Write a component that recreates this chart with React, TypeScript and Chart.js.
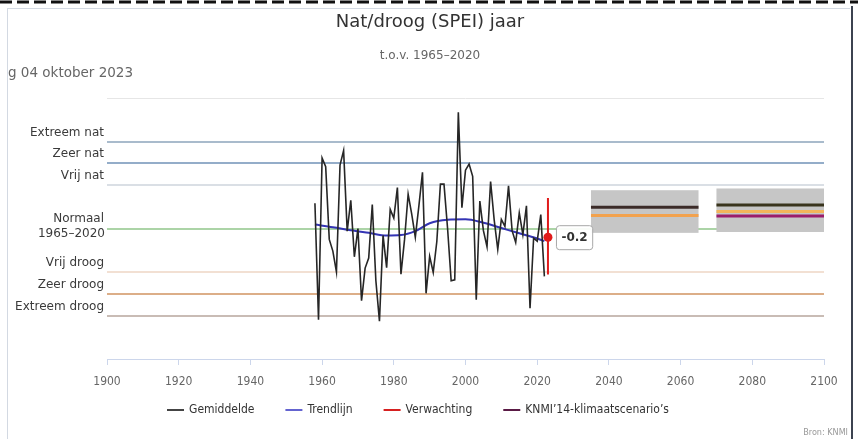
import React, { useEffect, useRef } from "react";
import { Chart, registerables } from "chart.js";

Chart.register(...registerables);

// Annual SPEI, De Bilt area average
const years = [
  1958, 1959, 1960, 1961, 1962, 1963, 1964, 1965, 1966, 1967,
  1968, 1969, 1970, 1971, 1972, 1973, 1974, 1975, 1976, 1977,
  1978, 1979, 1980, 1981, 1982, 1983, 1984, 1985, 1986, 1987,
  1988, 1989, 1990, 1991, 1992, 1993, 1994, 1995, 1996, 1997,
  1998, 1999, 2000, 2001, 2002, 2003, 2004, 2005, 2006, 2007,
  2008, 2009, 2010, 2011, 2012, 2013, 2014, 2015, 2016, 2017,
  2018, 2019, 2020, 2021, 2022,
];
const speiValues = [
  0.58, -2.1, 1.62, 1.42, -0.25, -0.52, -1.0, 1.46, 1.79, -0.06,
  0.65, -0.65, 0.0, -1.66, -0.91, -0.68, 0.55, -1.2, -2.13, -0.16,
  -0.9, 0.44, 0.24, 0.94, -1.05, -0.25, 0.79, 0.33, -0.2, 0.52,
  1.29, -1.49, -0.64, -1.01, -0.3, 1.02, 1.02, 0.0, -1.2, -1.18,
  2.67, 0.48, 1.34, 1.48, 1.2, -1.64, 0.63, -0.05, -0.42, 1.08,
  0.2, -0.48, 0.21, 0.05, 0.98, -0.05, -0.32, 0.36, -0.14, 0.52,
  -1.83, -0.22, -0.29, 0.32, -1.1,
];

// Smoothed trend
const trendYears = [1958, 1963, 1968, 1973, 1978, 1982, 1986, 1990, 1995, 2000, 2005, 2010, 2015, 2020, 2022];
const trendValues = [0.09, 0.03, -0.04, -0.1, -0.16, -0.15, -0.06, 0.12, 0.2, 0.21, 0.13, 0.01, -0.11, -0.23, -0.29];

// Expectation for the running year
const forecastYear = 2023;
const forecastValue = -0.2;
const forecastRange = [0.7, -1.06];

// SPEI classes
const classValues = [3, 2, 1.5, 1, 0, -1, -1.5, -2];
const classLabels = ["", "Extreem nat", "Zeer nat", "Vrij nat", "Normaal\n1965–2020", "Vrij droog", "Zeer droog", "Extreem droog"];
const classColors = ["#e6e6e6", "#a9bbcc", "#94adc9", "#dadfe5", "#acd4a7", "#f2e0d3", "#dcae88", "#c9bcb5"];

const xTicks = [1900, 1920, 1940, 1960, 1980, 2000, 2020, 2040, 2060, 2080, 2100];

// KNMI'14 scenarios: periods, spread and scenario levels
const scenarioPeriods = [[2035, 2065], [2070, 2100]];
const scenarioRanges = [[-0.1, 0.88], [-0.08, 0.92]];
const scenarioLevels = [[0.49, 0.3], [0.54, 0.39, 0.29]];
const scenarioColors = [["#3b2b28", "#f2a24e"], ["#39341d", "#f3b55a", "#9b1d6b"]];

const legendLabels = ["Gemiddelde", "Trendlijn", "Verwachting", "KNMI’14-klimaatscenario’s"];
const legendColors = ["#444444", "#6464d0", "#d62020", "#5a1a45"];

const titleText = "Nat/droog (SPEI) jaar";
const subtitleText = "t.o.v. 1965–2020";
const dateText = "g 04 oktober 2023";
const sourceText = "Bron: KNMI";

const sans = "'DejaVu Sans', 'Liberation Sans', sans-serif";
const narrow = "'Liberation Sans Narrow', 'Arial Narrow', 'DejaVu Sans Condensed', 'Liberation Sans', sans-serif";

const decor = {
  id: "decor",
  beforeDraw(chart: any) {
    const { ctx, width, height } = chart;
    ctx.save();
    ctx.fillStyle = "#ffffff";
    ctx.fillRect(0, 0, width, height);
    // frame
    ctx.strokeStyle = "#d3d9e2";
    ctx.lineWidth = 1;
    ctx.beginPath();
    ctx.moveTo(7.5, 8);
    ctx.lineTo(7.5, height);
    ctx.moveTo(7, 8.5);
    ctx.lineTo(850, 8.5);
    ctx.stroke();
    ctx.strokeStyle = "#3c4350";
    ctx.lineWidth = 2;
    ctx.beginPath();
    ctx.moveTo(852, 6);
    ctx.lineTo(852, height);
    ctx.stroke();
    ctx.setLineDash([12, 5]);
    ctx.strokeStyle = "#111111";
    ctx.lineWidth = 3;
    ctx.beginPath();
    ctx.moveTo(0, 2);
    ctx.lineTo(width, 2);
    ctx.stroke();
    ctx.restore();
  },
  beforeDatasetsDraw(chart: any) {
    const { ctx, chartArea, scales } = chart;
    const x = scales.x;
    const y = scales.y;
    ctx.save();
    classValues.forEach((v, i) => {
      const py = Math.round(y.getPixelForValue(v));
      ctx.strokeStyle = classColors[i];
      ctx.lineWidth = i === 0 ? 1 : 2;
      ctx.beginPath();
      ctx.moveTo(chartArea.left, py + (i === 0 ? 0.5 : 0));
      ctx.lineTo(chartArea.right, py + (i === 0 ? 0.5 : 0));
      ctx.stroke();
      const lines = classLabels[i] ? classLabels[i].split("\n") : [];
      ctx.fillStyle = "#3a3a3a";
      ctx.font = `12px ${sans}`;
      ctx.textAlign = "right";
      ctx.textBaseline = "middle";
      if (lines.length === 1) {
        ctx.fillText(lines[0], chartArea.left - 3, py - 9);
      } else if (lines.length > 1) {
        ctx.fillText(lines[0], chartArea.left - 3, py - 10);
        ctx.fillText(lines[1], chartArea.left - 2, py + 5);
      }
    });
    // scenario spread boxes
    scenarioPeriods.forEach((p, i) => {
      const x0 = x.getPixelForValue(p[0]);
      const x1 = x.getPixelForValue(p[1]);
      const y0 = y.getPixelForValue(scenarioRanges[i][1]);
      const y1 = y.getPixelForValue(scenarioRanges[i][0]);
      ctx.fillStyle = "#c6c6c6";
      ctx.fillRect(x0, y1, x1 - x0, y0 - y1);
    });
    ctx.restore();
  },
  afterDatasetsDraw(chart: any) {
    const { ctx, scales } = chart;
    const px = scales.x.getPixelForValue(forecastYear);
    const py = scales.y.getPixelForValue(forecastValue);
    const text = forecastValue.toFixed(1);
    ctx.save();
    ctx.font = `bold 12px ${sans}`;
    const w = ctx.measureText(text).width + 10;
    const bx = px + 8;
    const by = py - 12;
    const bh = 24;
    ctx.beginPath();
    ctx.roundRect(bx + 0.5, by + 0.5, w, bh, 3);
    ctx.fillStyle = "rgba(255,255,255,0.92)";
    ctx.fill();
    ctx.strokeStyle = "#a8a8a8";
    ctx.lineWidth = 1;
    ctx.stroke();
    ctx.fillStyle = "#333333";
    ctx.textAlign = "center";
    ctx.textBaseline = "middle";
    ctx.fillText(text, bx + w / 2 + 0.5, py + 0.5);
    ctx.restore();
  },
  afterDraw(chart: any) {
    const { ctx } = chart;
    ctx.save();
    ctx.textBaseline = "middle";
    ctx.textAlign = "center";
    ctx.fillStyle = "#333333";
    ctx.font = `18px ${sans}`;
    ctx.fillText(titleText, 430, 22);
    ctx.fillStyle = "#666666";
    ctx.font = `12px ${sans}`;
    ctx.fillText(subtitleText, 430, 56);
    ctx.textAlign = "left";
    ctx.font = `13.5px ${sans}`;
    ctx.fillText(dateText, 8, 73);

    // legend
    ctx.font = `12px ${narrow}`;
    const sym = 17;
    const gap = 5;
    const itemGap = 31;
    const widths = legendLabels.map((l) => sym + gap + ctx.measureText(l).width);
    const total = widths.reduce((a, b) => a + b, 0) + itemGap * (widths.length - 1);
    let lx = 418 - total / 2;
    const ly = 410;
    legendLabels.forEach((l, i) => {
      ctx.strokeStyle = legendColors[i];
      ctx.lineWidth = 2;
      ctx.beginPath();
      ctx.moveTo(lx, ly);
      ctx.lineTo(lx + sym, ly);
      ctx.stroke();
      ctx.fillStyle = "#333333";
      ctx.fillText(l, lx + sym + gap, ly);
      lx += widths[i] + itemGap;
    });

    ctx.textAlign = "right";
    ctx.fillStyle = "#999999";
    ctx.font = `9px ${narrow}`;
    ctx.fillText(sourceText, 848, 433);
    ctx.restore();
  },
};

export default function App() {
  const ref = useRef<HTMLCanvasElement | null>(null);

  useEffect(() => {
    if (!ref.current) return;
    const scenarioSets: any[] = [];
    scenarioPeriods.forEach((p, i) => {
      scenarioLevels[i].forEach((lv, j) => {
        scenarioSets.push({
          label: `scenario-${i}-${j}`,
          data: [
            { x: p[0], y: lv },
            { x: p[1], y: lv },
          ],
          borderColor: scenarioColors[i][j],
          borderWidth: 3,
          pointRadius: 0,
          borderCapStyle: "butt",
        });
      });
    });

    const chart = new Chart(ref.current, {
      type: "line",
      data: {
        datasets: [
          ...scenarioSets,
          {
            label: "Gemiddelde",
            data: years.map((yr, i) => ({ x: yr, y: speiValues[i] })),
            borderColor: "#262626",
            borderWidth: 1.6,
            pointRadius: 0,
            tension: 0,
          },
          {
            label: "Trendlijn",
            data: trendYears.map((yr, i) => ({ x: yr, y: trendValues[i] })),
            borderColor: "#3434b4",
            borderWidth: 2,
            pointRadius: 0,
            cubicInterpolationMode: "monotone",
          },
          {
            label: "Verwachting",
            data: [
              { x: forecastYear, y: forecastRange[0] },
              { x: forecastYear, y: forecastRange[1] },
            ],
            borderColor: "#e01b1b",
            borderWidth: 2,
            pointRadius: 0,
          },
          {
            label: "Verwachting waarde",
            data: [{ x: forecastYear, y: forecastValue }],
            showLine: false,
            pointRadius: 4.5,
            pointBackgroundColor: "#e01b1b",
            pointBorderWidth: 0,
          },
        ],
      },
      options: {
        responsive: false,
        animation: false,
        events: [],
        layout: { padding: { left: 107, right: 34, top: 98, bottom: 40 } },
        scales: {
          x: {
            type: "linear",
            min: 1900,
            max: 2100,
            afterBuildTicks: (s: any) => {
              s.ticks = xTicks.map((v) => ({ value: v }));
            },
            afterFit: (s: any) => {
              s.height = 40;
            },
            grid: { drawOnChartArea: false, tickLength: 6, color: "#ccd6eb" },
            border: { color: "#ccd6eb" },
            ticks: {
              color: "#666666",
              padding: 10,
              maxRotation: 0,
              autoSkip: false,
              font: { family: narrow, size: 12 },
              callback: (v: any) => String(v),
            },
          },
          y: { type: "linear", min: -3, max: 3, display: false },
        },
        plugins: {
          legend: { display: false },
          tooltip: { enabled: false },
        },
      },
      plugins: [decor],
    } as any);
    return () => chart.destroy();
  }, []);

  return (
    <div style={{ position: "fixed", left: 0, top: 0, width: 858, height: 439 }}>
      <canvas ref={ref} width={858} height={439} style={{ display: "block", width: 858, height: 439 }} />
    </div>
  );
}
